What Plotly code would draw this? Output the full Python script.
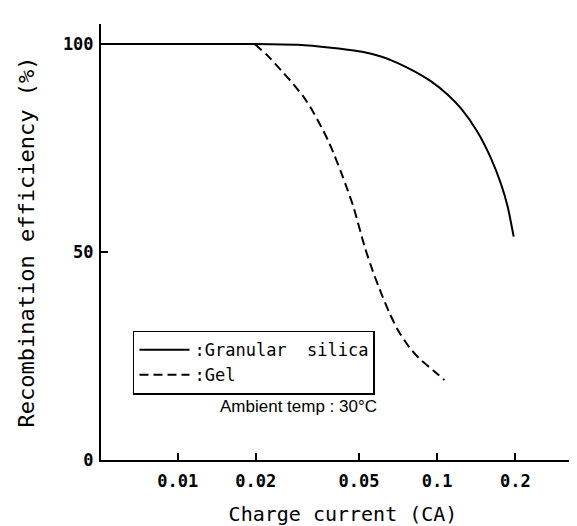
import plotly.graph_objects as go

# Data (x: charge current in CA, y: recombination efficiency %)
silica_x = [0.0051, 0.01, 0.02, 0.029, 0.039, 0.0452, 0.0524, 0.0607, 0.0705,
            0.0817, 0.0947, 0.1098, 0.1235, 0.1432, 0.1612, 0.1762, 0.1869, 0.1971]
silica_y = [100, 100, 100, 99.8, 99.1, 98.6, 98.0, 97.0, 95.4,
            93.4, 91.0, 87.8, 84.5, 78.8, 72.5, 66.3, 60.9, 53.7]

gel_x = [0.0198, 0.0222, 0.0250, 0.0277, 0.0308, 0.0331, 0.0351, 0.0379,
         0.0402, 0.0426, 0.0452, 0.0477, 0.0525, 0.0566, 0.0610, 0.0656,
         0.0706, 0.0783, 0.0856, 0.0963, 0.1066]
gel_y = [100, 97.2, 93.7, 90.6, 87.0, 83.9, 81.0, 76.9,
         73.2, 69.2, 64.8, 60.6, 51.3, 45.2, 39.9, 35.2,
         31.2, 27.0, 24.3, 21.6, 19.2]

x_ticks = [0.01, 0.02, 0.05, 0.1, 0.2]
x_tick_labels = ["0.01", "0.02", "0.05", "0.1", "0.2"]
y_ticks = [0, 50, 100]
y_tick_labels = ["0", "50", "100"]

MONO = "DejaVu Sans Mono"

fig = go.Figure()
fig.add_trace(go.Scatter(
    x=silica_x, y=silica_y, mode="lines", name=":Granular  silica",
    line=dict(color="black", width=2, shape="spline", smoothing=0.6),
))
fig.add_trace(go.Scatter(
    x=gel_x, y=gel_y, mode="lines", name=":Gel",
    line=dict(color="black", width=2, dash="9px,5px", shape="spline", smoothing=0.6),
))

fig.update_layout(
    width=577, height=526,
    margin=dict(l=93, r=0, t=16, b=73.5, autoexpand=False),
    paper_bgcolor="white", plot_bgcolor="white",
    showlegend=True,
    legend=dict(
        x=0.0661, y=0.2967, xanchor="left", yanchor="top",
        bordercolor="black", borderwidth=1.5, bgcolor="white",
        font=dict(family=MONO, size=17, color="black"),
        itemwidth=50, tracegroupgap=0,
    ),
    annotations=[dict(
        text="Ambient temp : 30°C", xref="paper", yref="paper",
        x=(210 - 93) / 484, y=(452.5 - 399) / 436.5, xanchor="left", yanchor="middle",
        showarrow=False, font=dict(family="Liberation Sans", size=17, color="black"),
    )],
)

fig.update_xaxes(
    type="log", range=[-2.2956, -0.4305],
    showline=True, linecolor="black", linewidth=2,
    ticks="inside", ticklen=7, tickwidth=2, tickcolor="black",
    tickvals=x_ticks, ticktext=x_tick_labels,
    tickfont=dict(family=MONO, size=17, color="black", weight="bold"),
    ticklabelstandoff=5,
    showgrid=False, zeroline=False, automargin=False,
    title=dict(text="Charge current (CA)", standoff=17,
               font=dict(family=MONO, size=20, color="black")),
)
fig.update_yaxes(
    range=[0, 104.8],
    showline=True, linecolor="black", linewidth=2,
    ticks="inside", ticklen=7, tickwidth=2, tickcolor="black",
    tickvals=y_ticks, ticktext=y_tick_labels,
    tickfont=dict(family=MONO, size=17, color="black", weight="bold"),
    ticklabelstandoff=2,
    showgrid=False, zeroline=False, automargin=False,
    title=dict(text="Recombination efficiency (%)", standoff=22,
               font=dict(family=MONO, size=22, color="black")),
)

fig.write_html("out.html")
